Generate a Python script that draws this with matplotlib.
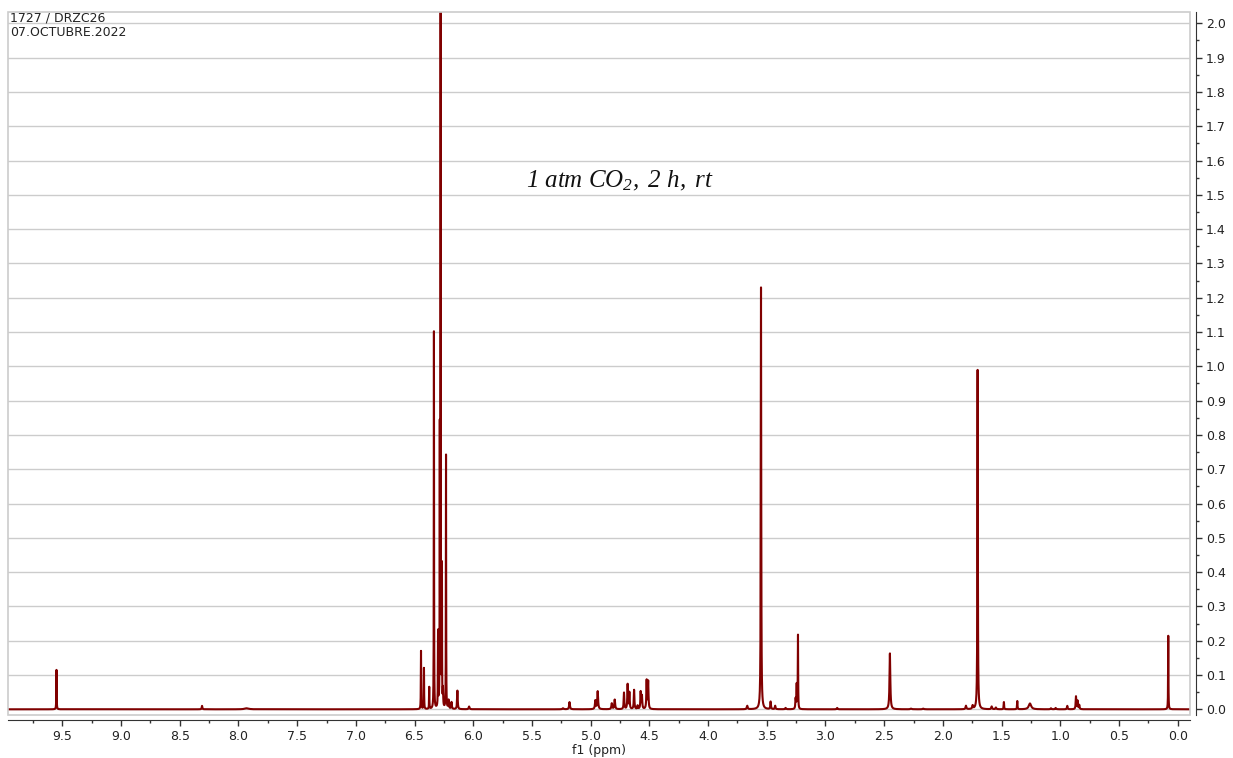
import matplotlib

matplotlib.use("Agg")
import matplotlib.pyplot as plt
import numpy as np
from matplotlib.patches import Rectangle
from matplotlib.ticker import FormatStrFormatter, MultipleLocator

# peak list: shift (ppm), height, half width (ppm)
shifts = [9.55, 8.31, 7.93,
          6.445, 6.42, 6.375, 6.335, 6.30, 6.285, 6.278, 6.267, 6.258, 6.232,
          6.21, 6.185, 6.135, 6.035,
          5.235, 5.18, 4.96, 4.94, 4.82, 4.795, 4.716, 4.685, 4.67, 4.63, 4.60,
          4.574, 4.563, 4.523, 4.51,
          3.666, 3.549, 3.467, 3.428, 3.339, 3.254, 3.245, 3.234, 2.90, 2.451,
          2.27, 2.167,
          1.803, 1.746, 1.704, 1.584, 1.548, 1.48, 1.366, 1.258, 1.079, 1.039,
          0.94, 0.866, 0.852, 0.838, 0.08]
heights = [0.115, 0.01, 0.003,
           0.17, 0.12, 0.064, 1.10, 0.22, 0.78, 2.10, 0.40, 0.05, 0.74,
           0.025, 0.02, 0.054, 0.008,
           0.003, 0.021, 0.025, 0.052, 0.017, 0.028, 0.048, 0.072, 0.048, 0.056,
           0.01, 0.05, 0.038, 0.083, 0.08,
           0.01, 1.23, 0.022, 0.01, 0.004, 0.03, 0.07, 0.215, 0.004, 0.163,
           0.002, 0.002,
           0.01, 0.01, 0.99, 0.008, 0.005, 0.021, 0.024, 0.017, 0.003, 0.004,
           0.01, 0.037, 0.024, 0.012, 0.215]
widths = [0.0015, 0.003, 0.02,
          0.0015, 0.0015, 0.0015, 0.0012, 0.0015, 0.0012, 0.0012, 0.0012, 0.002, 0.0012,
          0.003, 0.003, 0.003, 0.004,
          0.006, 0.004, 0.004, 0.004, 0.004, 0.004, 0.003, 0.003, 0.003, 0.003,
          0.003, 0.003, 0.003, 0.003, 0.003,
          0.004, 0.0022, 0.003, 0.003, 0.004, 0.003, 0.002, 0.0015, 0.004, 0.004,
          0.006, 0.006,
          0.004, 0.004, 0.0022, 0.004, 0.004, 0.002, 0.002, 0.012, 0.004, 0.004,
          0.003, 0.003, 0.003, 0.003, 0.0015]

title_lines = ["1727 / DRZC26", "07.OCTUBRE.2022"]
note = r"$1\ atm\ CO_2,\ 2\ h,\ rt$"

plt.rcParams["mathtext.fontset"] = "custom"
plt.rcParams["mathtext.it"] = "Liberation Serif:italic"
plt.rcParams["mathtext.rm"] = "Liberation Serif:italic"

ppm = np.linspace(-0.105, 9.963, 60001)
spec = np.zeros_like(ppm)
for c, h, w in zip(shifts, heights, widths):
    spec += h * w**2 / ((ppm - c) ** 2 + w**2)

fig = plt.figure(figsize=(12.33, 7.58), dpi=100)
ax = fig.add_axes([8 / 1233, 43 / 758, 1182 / 1233, 703 / 758])

grid_col = "#cccccc"
for yv in np.arange(0.0, 2.01, 0.1):
    ax.axhline(yv, color=grid_col, lw=1.0, zorder=1)

ax.plot(ppm, spec, color="#800000", lw=1.5, zorder=3)

ax.set_xlim(9.963, -0.105)
ax.set_ylim(-0.0166, 2.033)

# light grey frame, black axes moved out like the MestReNova layout
ax.add_patch(Rectangle((0, 0), 1, 1, transform=ax.transAxes, fill=False,
                       ec=grid_col, lw=1.2, zorder=4, clip_on=False))
for s in ["left", "top"]:
    ax.spines[s].set_visible(False)
ax.spines["bottom"].set_position(("outward", 3.6))
ax.spines["right"].set_position(("outward", 4.3))
ax.spines["bottom"].set_color("#333333")
ax.spines["right"].set_color("#333333")

ax.yaxis.tick_right()
ax.xaxis.set_major_locator(MultipleLocator(0.5))
ax.xaxis.set_minor_locator(MultipleLocator(0.25))
ax.yaxis.set_major_locator(MultipleLocator(0.1))
ax.yaxis.set_minor_locator(MultipleLocator(0.05))
ax.xaxis.set_major_formatter(FormatStrFormatter("%.1f"))
ax.yaxis.set_major_formatter(FormatStrFormatter("%.1f"))
ax.tick_params(axis="both", which="major", length=4, width=1,
               color="#333333", labelsize=9, labelcolor="#222222")
ax.tick_params(axis="both", which="minor", length=2.5, width=1, color="#333333")
ax.tick_params(axis="x", pad=3.5)
ax.tick_params(axis="y", pad=3)
ax.set_xlabel("f1 (ppm)", fontsize=9, color="#222222", labelpad=0.5)

ax.text(0.002, 1.001, "\n".join(title_lines), transform=ax.transAxes,
        ha="left", va="top", fontsize=9, color="#222222", linespacing=1.15,
        zorder=5)
ax.text(4.75, 1.54, note, ha="center", va="center", fontsize=18,
        color="#111111", zorder=5)

plt.savefig("out.png", dpi=100)
